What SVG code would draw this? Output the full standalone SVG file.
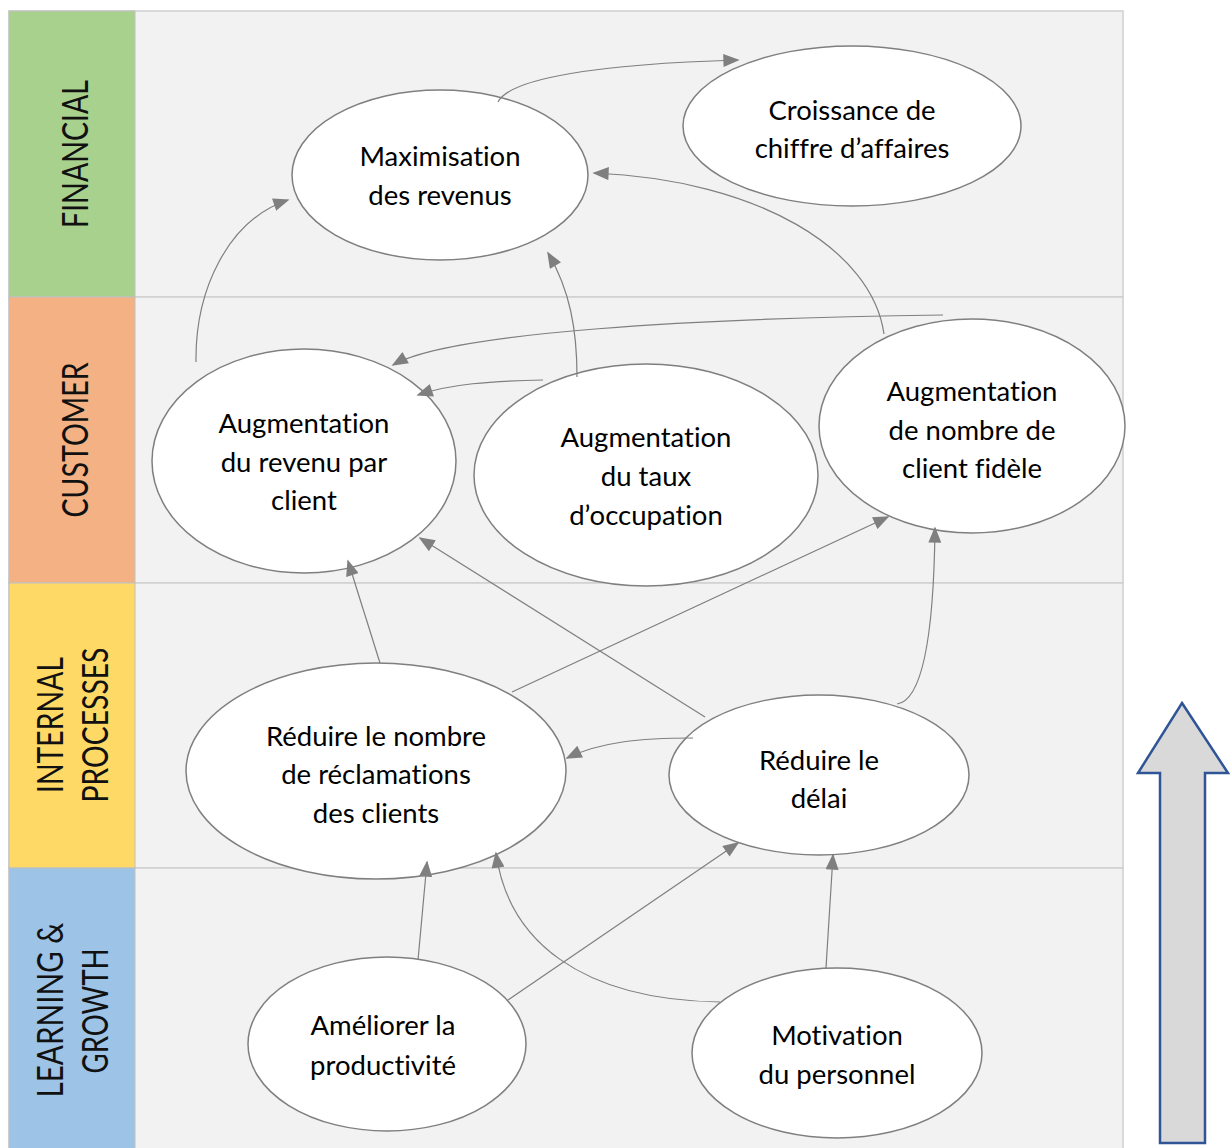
<svg xmlns="http://www.w3.org/2000/svg" width="1232" height="1148" viewBox="0 0 1232 1148">
<style>
.lane{fill:#F2F2F2;stroke:#CFCFCF;stroke-width:1.5}
.lbl{font-family:Lato,"Open Sans",sans-serif;font-weight:400;font-size:37px;fill:#111;text-anchor:middle}
.node ellipse{fill:#FFFFFF;stroke:#7F7F7F;stroke-width:1.5}
.node text{font-family:Lato,"Liberation Sans",sans-serif;font-size:27.5px;fill:#000;text-anchor:middle;font-variant-ligatures:none}
.conn path{fill:none;stroke:#7F7F7F;stroke-width:1.2;marker-end:url(#ah)}
</style>
<defs>
<marker id="ah" viewBox="0 0 10 8" refX="9" refY="4" markerWidth="17" markerHeight="13" markerUnits="userSpaceOnUse" orient="auto">
<path d="M0,0 L10,4 L0,8 z" fill="#7F7F7F"/>
</marker>
</defs>
<rect width="1232" height="1148" fill="#FFFFFF"/>
<g id="lanes">
<rect class="lane" x="9" y="11" width="1114" height="286"/>
<rect class="lane" x="9" y="297" width="1114" height="286"/>
<rect class="lane" x="9" y="583" width="1114" height="285"/>
<rect class="lane" x="9" y="868" width="1114" height="290"/>
<rect x="9" y="11" width="126" height="286" fill="#A9D18E" stroke="#C0C0C0" stroke-width="1"/>
<rect x="9" y="297" width="126" height="286" fill="#F4B183" stroke="#C0C0C0" stroke-width="1"/>
<rect x="9" y="583" width="126" height="285" fill="#FFD966" stroke="#C0C0C0" stroke-width="1"/>
<rect x="9" y="868" width="126" height="290" fill="#9DC3E6" stroke="#C0C0C0" stroke-width="1"/>
<text class="lbl" transform="translate(88,154) rotate(-90)" textLength="148" lengthAdjust="spacingAndGlyphs">FINANCIAL</text>
<text class="lbl" transform="translate(88,440) rotate(-90)" textLength="155" lengthAdjust="spacingAndGlyphs">CUSTOMER</text>
<text class="lbl" transform="translate(63,725) rotate(-90)" textLength="136" lengthAdjust="spacingAndGlyphs">INTERNAL</text>
<text class="lbl" transform="translate(108,725) rotate(-90)" textLength="155" lengthAdjust="spacingAndGlyphs">PROCESSES</text>
<text class="lbl" transform="translate(63,1010) rotate(-90)" textLength="175" lengthAdjust="spacingAndGlyphs">LEARNING &amp;</text>
<text class="lbl" transform="translate(108,1011) rotate(-90)" textLength="125" lengthAdjust="spacingAndGlyphs">GROWTH</text>
</g>
<g id="n1" class="node"><ellipse cx="440" cy="175" rx="148" ry="85"/><text x="440" y="166">Maximisation</text><text x="440" y="205">des revenus</text></g>
<g id="n2" class="node"><ellipse cx="852" cy="126" rx="169" ry="80"/><text x="852" y="120">Croissance de</text><text x="852" y="158">chiffre d’affaires</text></g>
<g id="n3" class="node"><ellipse cx="304" cy="461" rx="152" ry="112"/><text x="304" y="433">Augmentation</text><text x="304" y="472">du revenu par</text><text x="304" y="510">client</text></g>
<g id="n4" class="node"><ellipse cx="646" cy="475" rx="172" ry="111"/><text x="646" y="447">Augmentation</text><text x="646" y="486">du taux</text><text x="646" y="525">d’occupation</text></g>
<g id="n5" class="node"><ellipse cx="972" cy="426" rx="153" ry="107"/><text x="972" y="401">Augmentation</text><text x="972" y="440">de nombre de</text><text x="972" y="478">client fidèle</text></g>
<g id="n6" class="node"><ellipse cx="376" cy="771" rx="190" ry="108"/><text x="376" y="746">Réduire le nombre</text><text x="376" y="784">de réclamations</text><text x="376" y="823">des clients</text></g>
<g id="n7" class="node"><ellipse cx="819" cy="775" rx="150" ry="80"/><text x="819" y="770">Réduire le</text><text x="819" y="808">délai</text></g>
<g id="n8" class="node"><ellipse cx="387" cy="1044" rx="139" ry="87"/><text x="383" y="1035">Améliorer la</text><text x="383" y="1075">productivité</text></g>
<g id="n9" class="node"><ellipse cx="837" cy="1053" rx="145" ry="85"/><text x="837" y="1045">Motivation</text><text x="837" y="1084">du personnel</text></g>
<g id="connectors" class="conn">
<path d="M498,102 C510,78 600,64 738,60"/>
<path d="M884,334 C872,250 760,180 594,173"/>
<path d="M196,362 C195,290 228,220 288,200"/>
<path d="M577,377 C577,330 570,290 548,253"/>
<path d="M943,315 C700,318 450,332 393,365"/>
<path d="M543,380 C490,381 450,384 418,395"/>
<path d="M380,663 L348,561"/>
<path d="M512,692 L888,517"/>
<path d="M705,717 L420,538"/>
<path d="M897,704 C925,700 934,620 935,528"/>
<path d="M693,738 C640,738 600,742 567,758"/>
<path d="M418,960 L427,862"/>
<path d="M508,1000 L738,843"/>
<path d="M720,1002 C580,1000 508,940 496,853"/>
<path d="M826,968 L833,855"/>
</g>
<g id="bigarrow">
<polygon points="1182,703 1228,773 1205,773 1205,1143 1160,1143 1160,773 1138,773" fill="#D9D9D9" stroke="#2F5597" stroke-width="2.5"/>
</g>
</svg>
